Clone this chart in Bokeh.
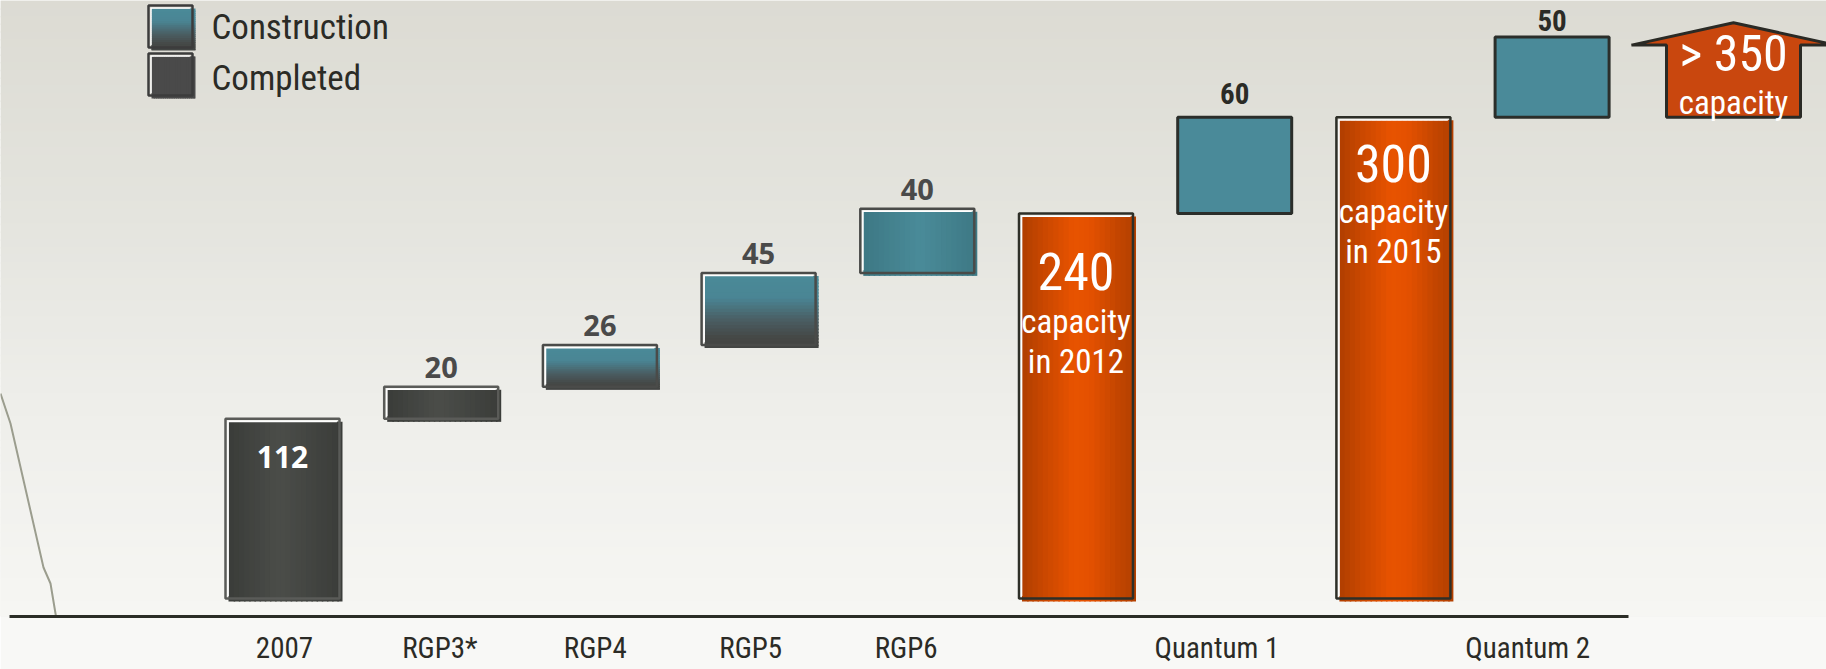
from bokeh.plotting import figure
from bokeh.models import Range1d, LinearAxis, FixedTicker
from bokeh.core.properties import value
from bokeh.embed import file_html
from bokeh.resources import INLINE

# ---------------- data ----------------
step_names = ["2007", "RGP3*", "RGP4", "RGP5", "RGP6", "Quantum 1", "Quantum 2"]
step_values = [112, 20, 26, 45, 40, 60, 50]
step_status = ["Completed", "Completed", "Construction", "Construction",
               "Construction", "Construction", "Construction"]
total_values = [240, 300]
total_captions = ["capacity", "capacity"]
total_years = ["in 2012", "in 2015"]
target_label = "> 350"
target_caption = "capacity"
legend_labels = ["Construction", "Completed"]

# ---------------- layout (pixels of the plot frame) ----------------
FW, FH, AXIS_H = 1826, 616, 53
X0_PX, SLOT_PX = 282.0, 158.7     # centre of first slot, slot spacing
Y0_PX, UNIT_PX = 598.0, 1.604     # pixel row of value 0, pixels per unit
LX0_PX, LSLOT_PX = 284.0, 155.4   # axis label spacing

def px2x(px): return (px - X0_PX) / SLOT_PX
def px2y(py): return (Y0_PX - py) / UNIT_PX
def dx(px): return px / SLOT_PX
def dy(px): return px / UNIT_PX

NARROW = "'Roboto Condensed', 'DejaVu Sans Condensed', sans-serif"
OPEN = "'Open Sans', sans-serif"

p = figure(frame_width=FW, frame_height=FH, min_border=0, min_border_bottom=AXIS_H,
           x_axis_type=None, y_axis_type=None, toolbar_location=None,
           output_backend="svg",
           x_range=Range1d(px2x(0), px2x(FW)), y_range=Range1d(px2y(FH), px2y(0)))
p.outline_line_color = None
p.border_fill_color = "#f8f8f6"
p.background_fill_color = "#f0f0ec"

def hexrgb(h):
    h = h.lstrip("#")
    return tuple(int(h[i:i + 2], 16) for i in (0, 2, 4))

def interp(stops, f):
    for (p0, c0), (p1, c1) in zip(stops[:-1], stops[1:]):
        if p0 <= f <= p1:
            t = 0 if p1 == p0 else (f - p0) / (p1 - p0)
            a, b = hexrgb(c0), hexrgb(c1)
            return "#%02x%02x%02x" % tuple(round(a[i] + (b[i] - a[i]) * t) for i in range(3))
    return stops[-1][1]

def grad_quads(x0, x1, b, t, stops, n, horizontal):
    L, R, B, T, C = [], [], [], [], []
    for k in range(n):
        f = (k + 0.5) / n
        C.append(interp(stops, f))
        if horizontal:
            w = (x1 - x0) / n
            L.append(x0 + k * w)
            R.append(min(x1, x0 + (k + 1) * w + dx(1.5)))
            B.append(b); T.append(t)
        else:  # top to bottom
            h = (t - b) / n
            T.append(t - k * h)
            B.append(max(b, t - (k + 1) * h - dy(1.5)))
            L.append(x0); R.append(x1)
    p.quad(left=L, right=R, bottom=B, top=T, fill_color=C, line_color=None)

# background gradient
BG = [(0, "#dcdbd3"), (0.35, "#e4e4de"), (0.65, "#eeeeea"), (1, "#f6f6f3")]
grad_quads(px2x(0), px2x(FW), px2y(FH), px2y(0), BG, 80, False)

# decorative slide stroke
deco_px = [(0, 393), (10, 423), (43, 567), (50, 583), (55, 613), (58, 630), (60, 667)]
p.line([px2x(a) for a, _ in deco_px], [px2y(c) for _, c in deco_px],
       line_color="#9b9d8e", line_width=2)

GRAY_H = [(0, "#3a3c39"), (0.45, "#4b4d49"), (1, "#3a3c39")]
TEAL_H = [(0, "#3d7884"), (0.5, "#4a8b99"), (1, "#3d7884")]
TEAL_V = [(0, "#4a8a98"), (0.3, "#4a8594"), (0.62, "#4a5d62"), (0.85, "#454846"), (1, "#434543")]
ORANGE_H = [(0, "#b03e00"), (0.15, "#c44600"), (0.45, "#e85300"), (0.6, "#e45100"),
            (0.85, "#c24500"), (1, "#b13f00")]

BAR_W = dx(114)

def framed_bar(cx, b, t, stops, horizontal, outline):
    x0, x1 = cx - BAR_W / 2, cx + BAR_W / 2
    off = 3
    grad_quads(x0 + dx(off), x1 + dx(off), b - dy(off), t - dy(off), stops, 22, horizontal)
    p.quad(left=[x0], right=[x1], bottom=[b], top=[t], fill_color=None,
           line_color=outline, line_width=2.5)
    i = 2.6
    p.line([x0 + dx(i), x0 + dx(i), x1 - dx(i)], [b + dy(i), t - dy(i), t - dy(i)],
           line_color="white", line_width=1.5)

def flat_box(cx, b, t):
    x0, x1 = cx - BAR_W / 2, cx + BAR_W / 2
    p.quad(left=[x0], right=[x1], bottom=[b], top=[t], fill_color="#4a8a99",
           line_color="#2b2e2a", line_width=3)

# ---------------- waterfall ----------------
sequence = [("s", 0), ("s", 1), ("s", 2), ("s", 3), ("s", 4), ("t", 0), ("s", 5), ("t", 1), ("s", 6)]
step_style = {0: "gray", 1: "gray", 2: "tealv", 3: "tealv", 4: "tealh", 5: "flat", 6: "flat"}
running = 0
for slot, (kind, idx) in enumerate(sequence):
    if kind == "s":
        b, t = running, running + step_values[idx]
        running = t
        st = step_style[idx]
        if st == "gray":
            framed_bar(slot, b, t, GRAY_H, True, "#5a5b58")
        elif st == "tealv":
            framed_bar(slot, b, t, TEAL_V, False, "#4a4b49")
        elif st == "tealh":
            framed_bar(slot, b, t, TEAL_H, True, "#4a4b49")
        else:
            flat_box(slot, b, t)
        if idx == 0:
            p.text(x=[slot], y=[t], text=[str(step_values[idx])], y_offset=38,
                   text_align="center", text_baseline="alphabetic",
                   text_font=value(OPEN), text_font_style="bold",
                   text_font_size=value("30px"), text_color="white")
        elif st == "flat":
            p.text(x=[slot], y=[t], text=[str(step_values[idx])],
                   y_offset=-23.5 if idx == 5 else -16.5,
                   text_align="center", text_baseline="alphabetic",
                   text_font=value(NARROW), text_font_style="bold",
                   text_font_size=value("29px"), text_color="#2b2b26")
        else:
            p.text(x=[slot], y=[t], text=[str(step_values[idx])], y_offset=-19.5,
                   text_align="center", text_baseline="alphabetic",
                   text_font=value(OPEN), text_font_style="bold",
                   text_font_size=value("29px"), text_color="#4a4a4a")
    else:
        tv = total_values[idx]
        running = tv
        framed_bar(slot, 0, tv, ORANGE_H, True, "#2e2f28")
        offs = [(58, 108, 148), (46, 94, 134)][idx]
        p.text(x=[slot], y=[tv], text=[str(tv)], y_offset=offs[0], text_align="center",
               text_baseline="alphabetic", text_font=value(NARROW),
               text_font_size=value("52px"), text_color="white")
        p.text(x=[slot], y=[tv], text=[total_captions[idx]], y_offset=offs[1], text_align="center",
               text_baseline="alphabetic", text_font=value(NARROW),
               text_font_size=value("33px"), text_color="white")
        p.text(x=[slot], y=[tv], text=[total_years[idx]], y_offset=offs[2], text_align="center",
               text_baseline="alphabetic", text_font=value(NARROW),
               text_font_size=value("33px"), text_color="white")

# ---------------- target arrow ----------------
ax = 9.143
base, shoulder, apex = total_values[-1], 345, 359
bw, hw = dx(67), dx(102)
p.patch([ax - bw, ax - bw, ax - hw, ax, ax + hw, ax + bw, ax + bw],
        [base, shoulder, shoulder, apex, shoulder, shoulder, base],
        fill_color="#c9470e", line_color="#2a2a25", line_width=3)
p.text(x=[ax], y=[base], text=[target_label], y_offset=-63, text_align="center",
       text_baseline="alphabetic", text_font=value(NARROW),
       text_font_size=value("50px"), text_color="white")
p.text(x=[ax], y=[base], text=[target_caption], y_offset=-15, text_align="center",
       text_baseline="alphabetic", text_font=value(NARROW),
       text_font_size=value("33px"), text_color="white")

# ---------------- legend ----------------
def legend_square(top_px, stops, horizontal):
    x0, x1 = px2x(148), px2x(192)
    t, b = px2y(top_px), px2y(top_px + 42)
    grad_quads(x0 + dx(3), x1 + dx(3), b - dy(3), t - dy(3), stops, 20, horizontal)
    p.quad(left=[x0], right=[x1], bottom=[b], top=[t], fill_color=None,
           line_color="#3c3c3c", line_width=2.5)
    i = 2.6
    p.line([x0 + dx(i), x0 + dx(i), x1 - dx(i)], [b + dy(i), t - dy(i), t - dy(i)],
           line_color="white", line_width=1.2)

legend_square(5, TEAL_V, False)
legend_square(53, [(0, "#4a4a4a"), (1, "#4a4a4a")], True)
p.text(x=[px2x(211), px2x(211)], y=[px2y(27), px2y(78)], text=legend_labels,
       text_align="left", text_baseline="alphabetic", text_font=value(NARROW),
       text_font_size=value("35px"), text_color="#2b2b26")

# ---------------- axis ----------------
p.extra_x_ranges = {"labels": Range1d((0 - LX0_PX) / LSLOT_PX, (FW - LX0_PX) / LSLOT_PX)}
label_slots = [0, 1, 2, 3, 4, 6, 8]
xaxis = LinearAxis(x_range_name="labels", ticker=FixedTicker(ticks=label_slots),
                   bounds=((9 - LX0_PX) / LSLOT_PX, (1628 - LX0_PX) / LSLOT_PX))
xaxis.major_label_overrides = {s: n for s, n in zip(label_slots, step_names)}
xaxis.axis_line_color = "#2b2d26"
xaxis.axis_line_width = 3
xaxis.major_tick_line_color = None
xaxis.minor_tick_line_color = None
xaxis.major_tick_out = 0
xaxis.major_tick_in = 0
xaxis.major_label_standoff = 14
xaxis.major_label_text_font = NARROW
xaxis.major_label_text_font_size = "29px"
xaxis.major_label_text_color = "#2b2b26"
p.add_layout(xaxis, "below")

open("out.html", "w").write(file_html(p, INLINE))
